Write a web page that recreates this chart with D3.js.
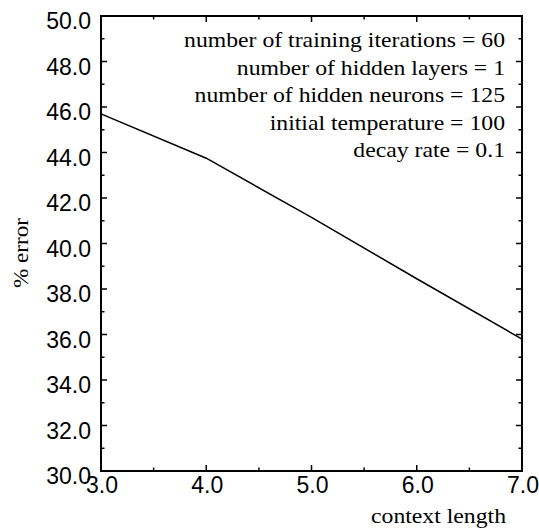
<!DOCTYPE html>
<html>
<head>
<meta charset="utf-8">
<script src="https://cdn.jsdelivr.net/npm/d3@7"></script>
<style>
  html, body { margin: 0; padding: 0; background: #fff; }
  svg { display: block; }
  .tick-label { font-family: "Liberation Sans", Arial, sans-serif; font-size: 23px; fill: #000; }
  .serif { font-family: "Liberation Serif", "Times New Roman", serif; font-size: 21px; fill: #000; }
</style>
</head>
<body>
<svg id="chart" width="539" height="529"></svg>
<script>
// context length vs % error
const contextLength = [3, 4, 5, 6, 7];
const errorPct = [45.7, 43.75, 41.15, 38.45, 35.8];
const xTicks = [3, 4, 5, 6, 7];
const yTicks = [30, 32, 34, 36, 38, 40, 42, 44, 46, 48, 50];
const notes = [
  "number of training iterations = 60",
  "number of hidden layers = 1",
  "number of hidden neurons = 125",
  "initial temperature = 100",
  "decay rate = 0.1"
];

const W = 539, H = 529;
const m = { top: 16, right: 17, bottom: 58, left: 101 };
const svg = d3.select("#chart");

const x = d3.scaleLinear().domain([3, 7]).range([m.left, W - m.right]);
const y = d3.scaleLinear().domain([30, 50]).range([H - m.bottom, m.top]);

const xMinor = d3.range(3.5, 7, 1);
const yMinor = d3.range(31, 50, 2);

// inward ticks on all four sides
const g = svg.append("g").attr("stroke", "#000").attr("stroke-width", 1.5);
function ticks(vals, len) {
  vals.forEach(v => {
    if (v > 3 && v < 7) {
      g.append("line").attr("x1", x(v)).attr("x2", x(v)).attr("y1", y(30)).attr("y2", y(30) - len);
      g.append("line").attr("x1", x(v)).attr("x2", x(v)).attr("y1", y(50)).attr("y2", y(50) + len);
    }
  });
}
function yticks(vals, len) {
  vals.forEach(v => {
    if (v > 30 && v < 50) {
      g.append("line").attr("y1", y(v)).attr("y2", y(v)).attr("x1", x(3)).attr("x2", x(3) + len);
      g.append("line").attr("y1", y(v)).attr("y2", y(v)).attr("x1", x(7)).attr("x2", x(7) - len);
    }
  });
}
ticks(xTicks, 6);
ticks(xMinor, 3.5);
yticks(yTicks, 6);
yticks(yMinor, 3.5);

svg.append("rect")
  .attr("x", x(3)).attr("y", y(50))
  .attr("width", x(7) - x(3)).attr("height", y(30) - y(50))
  .attr("fill", "none").attr("stroke", "#000").attr("stroke-width", 2);

// tick labels
svg.append("g").selectAll("text").data(yTicks).join("text")
  .attr("class", "tick-label")
  .attr("x", x(3) - 10)
  .attr("y", d => y(d) + 13)
  .attr("text-anchor", "end")
  .text(d => d.toFixed(1));

svg.append("g").selectAll("text").data(xTicks).join("text")
  .attr("class", "tick-label")
  .attr("x", d => x(d) + 1)
  .attr("y", y(30) + 22)
  .attr("text-anchor", "middle")
  .text(d => d.toFixed(1));

// data line
const line = d3.line().x((d, i) => x(contextLength[i])).y(d => y(d));
svg.append("path")
  .datum(errorPct)
  .attr("d", line)
  .attr("fill", "none")
  .attr("stroke", "#000")
  .attr("stroke-width", 1.5);

// axis titles
svg.append("text").attr("class", "serif")
  .attr("transform", "translate(506,523) scale(1.13,1)")
  .attr("text-anchor", "end")
  .text("context length");

svg.append("text").attr("class", "serif")
  .attr("transform", "translate(28,253) rotate(-90) scale(1.1,1)")
  .attr("text-anchor", "middle")
  .text("% error");

// parameter notes
svg.append("g").selectAll("text").data(notes).join("text")
  .attr("class", "serif")
  .attr("transform", (d, i) => `translate(505,${47.3 + i * 27.5}) scale(1.13,1)`)
  .attr("text-anchor", "end")
  .text(d => d);
</script>
</body>
</html>
